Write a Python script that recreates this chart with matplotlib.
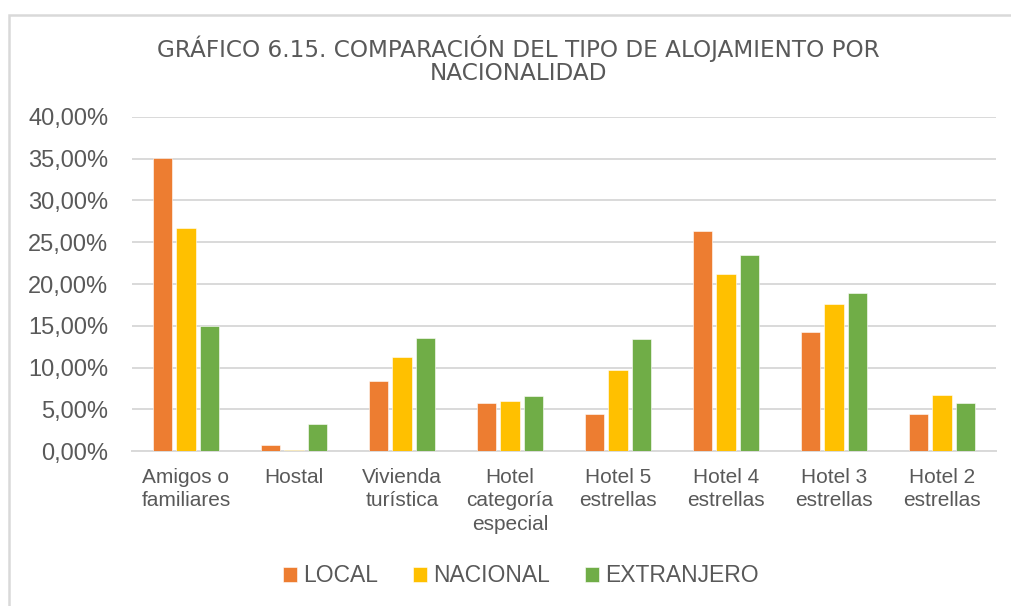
import matplotlib
matplotlib.use("Agg")
import matplotlib.pyplot as plt
from matplotlib.patches import Rectangle
from matplotlib.ticker import FuncFormatter
import numpy as np

plt.rcParams['font.family'] = ['Liberation Sans', 'DejaVu Sans']

categories = ["Amigos o\nfamiliares", "Hostal", "Vivienda\nturística",
              "Hotel\ncategoría\nespecial", "Hotel 5\nestrellas", "Hotel 4\nestrellas",
              "Hotel 3\nestrellas", "Hotel 2\nestrellas"]
series_names = ["LOCAL", "NACIONAL", "EXTRANJERO"]
local = [35.05, 0.72, 8.37, 5.74, 4.50, 26.30, 14.22, 4.50]
nacional = [26.70, 0.20, 11.27, 6.00, 9.72, 21.24, 17.61, 6.69]
extranjero = [14.98, 3.23, 13.50, 6.57, 13.39, 23.47, 18.88, 5.78]
colors = ["#ED7D31", "#FFC000", "#70AD47"]
title = "GRÁFICO 6.15. COMPARACIÓN DEL TIPO DE ALOJAMIENTO POR\nNACIONALIDAD"

text_color = "#595959"
grid_color = "#D9D9D9"

fig = plt.figure(figsize=(10.12, 6.06), dpi=100)
ax = fig.add_axes([132 / 1012, 1 - 451.3 / 606, 864 / 1012, 334.6 / 606])

# chart area frame
fig.patches.append(Rectangle((8.5 / 1012, -0.1), 1.2, 1 - 15 / 606 + 0.1,
                             transform=fig.transFigure, fill=False,
                             edgecolor=grid_color, linewidth=1.8, zorder=0))

x = np.arange(len(categories))
width = 0.176
step = 0.222
for i, (vals, name, c) in enumerate(zip([local, nacional, extranjero], series_names, colors)):
    ax.bar(x + (i - 1) * step, vals, width, color=c, edgecolor="white",
           linewidth=0.4, label=name, zorder=3)

ax.set_xlim(-0.5, len(categories) - 0.5)
ax.set_ylim(0, 40)
ax.set_yticks(np.arange(0, 41, 5))
ax.yaxis.set_major_formatter(FuncFormatter(lambda v, p: f"{v:.2f}%".replace(".", ",")))
ax.grid(axis="y", color=grid_color, linewidth=1.4, zorder=0)
for s in ["top", "right", "left"]:
    ax.spines[s].set_visible(False)
ax.spines["bottom"].set_color(grid_color)
ax.spines["bottom"].set_linewidth(1.4)
ax.tick_params(axis="y", length=0, pad=17, labelsize=17, labelcolor=text_color)
ax.tick_params(axis="x", length=0, pad=12, labelsize=15, labelcolor=text_color)
ax.set_xticks(x)
ax.set_xticklabels(categories, linespacing=1.3)

fig.text(518 / 1012, 1 - 60 / 606, title, ha="center", va="center",
         fontsize=16.7, color=text_color, linespacing=1.05, family="DejaVu Sans")

fig.legend(loc="center", bbox_to_anchor=(521 / 1012, 1 - 576 / 606), ncol=3,
           frameon=False, fontsize=16.5, labelcolor=text_color,
           handlelength=0.6, handleheight=0.6, handletextpad=0.3, columnspacing=1.5)

fig.savefig("out.png", dpi=100, facecolor="white")
